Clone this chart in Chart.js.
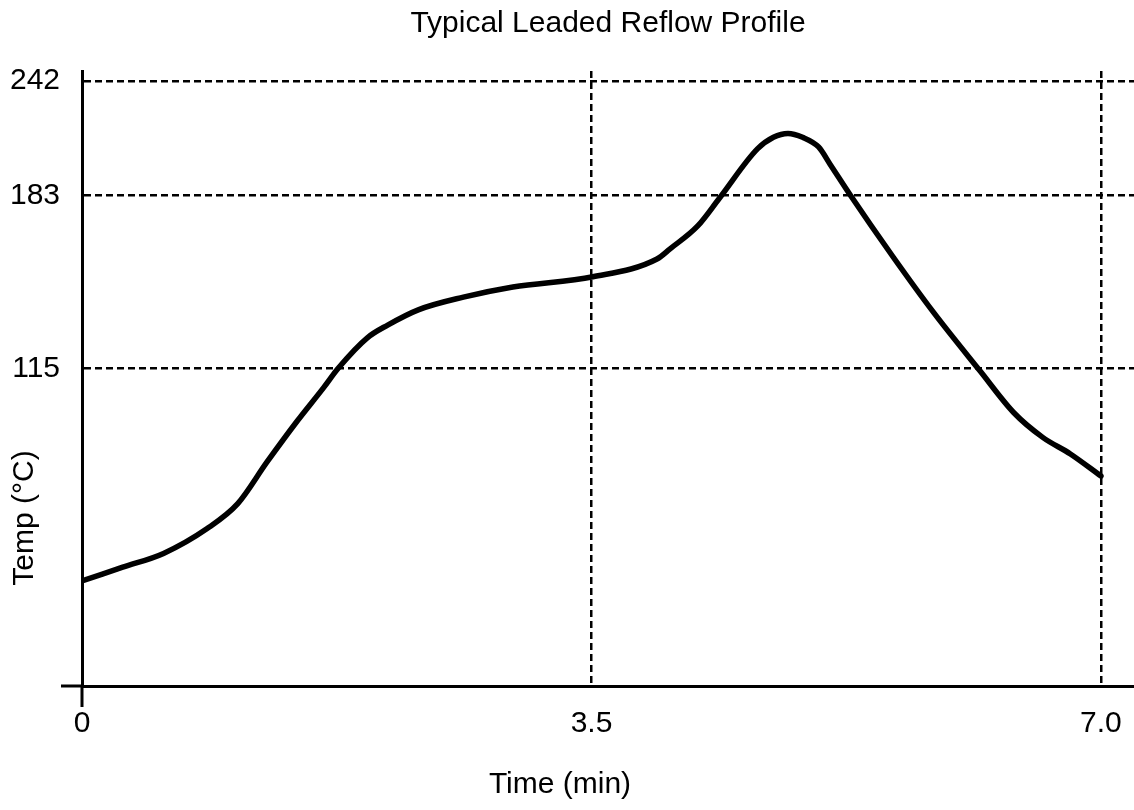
<!DOCTYPE html>
<html>
<head>
<meta charset="utf-8">
<title>Typical Leaded Reflow Profile</title>
<script src="https://cdn.jsdelivr.net/npm/chart.js@4.4.1/dist/chart.umd.min.js"></script>
<style>
    html, body { margin: 0; padding: 0; background: #fff; }
    #chart { display: block; }
</style>
</head>
<body>
<canvas id="chart" width="1134" height="810"></canvas>
<script>
// Profile: time in minutes, temperature in °C
const timeMin = [0, 0.28, 0.56, 0.86, 1.07, 1.27, 1.48, 1.66, 1.76, 1.96, 2.10, 2.31, 2.62, 2.96,
    3.51, 3.95, 4.04, 4.23, 4.38, 4.64, 4.75, 4.85, 4.95, 5.06, 5.14, 5.28, 5.57, 5.85,
    6.17, 6.40, 6.60, 6.79, 7.0];
const tempC = [38, 43, 48, 57, 66, 81, 96, 108, 115, 127, 132, 138, 143, 147,
    151, 158, 162, 171, 182, 207, 213, 215, 213, 208, 199, 183, 159, 137,
    114, 99, 90, 84, 76];

const xTickValues = [0, 3.5, 7.0];
const xTickLabels = ['0', '3.5', '7.0'];
const yTickValues = [115, 183, 242];

const chartTitle = 'Typical Leaded Reflow Profile';
const xAxisTitle = 'Time (min)';
const yAxisTitle = 'Temp (°C)';

// The temperature axis is not linear in the original: each band between
// the marked temperatures gets its own share of the axis height.
const yStopTemps = [0, 115, 183, 242, 247];
const yStopFractions = [0, 0.5166, 0.7976, 0.9837, 1];

function interpolate(v, from, to) {
    if (v <= from[0]) return to[0];
    for (let i = 1; i < from.length; i++) {
        if (v <= from[i]) {
            const f = (v - from[i - 1]) / (from[i] - from[i - 1]);
            return to[i - 1] + f * (to[i] - to[i - 1]);
        }
    }
    return to[to.length - 1];
}

class PiecewiseScale extends Chart.LinearScale {
    getPixelForValue(value) {
        if (value === null || value === undefined) return NaN;
        return this.getPixelForDecimal(interpolate(value, yStopTemps, yStopFractions));
    }
    getValueForPixel(pixel) {
        return interpolate(this.getDecimalForPixel(pixel), yStopFractions, yStopTemps);
    }
}
PiecewiseScale.id = 'piecewise';
PiecewiseScale.defaults = {};
Chart.register(PiecewiseScale);

const FONT = 'Arial, "Liberation Sans", sans-serif';
Chart.defaults.font.family = FONT;
Chart.defaults.font.size = 30;
Chart.defaults.color = '#000';

// axis stubs past the origin plus the two axis captions
const axisExtras = {
    id: 'axisExtras',
    afterDraw(chart) {
        const { ctx, chartArea: a } = chart;
        ctx.save();
        ctx.strokeStyle = '#000';
        ctx.lineWidth = 3;
        ctx.beginPath();
        ctx.moveTo(a.left - 21, a.bottom);
        ctx.lineTo(a.left, a.bottom);
        ctx.moveTo(a.left, a.bottom);
        ctx.lineTo(a.left, a.bottom + 21);
        ctx.stroke();

        ctx.fillStyle = '#000';
        ctx.font = '30px ' + FONT;
        ctx.textAlign = 'center';
        ctx.textBaseline = 'middle';
        ctx.fillText(xAxisTitle, chart.width / 2 - 7, a.bottom + 99);
        ctx.translate(25, a.bottom - 168);
        ctx.rotate(-Math.PI / 2);
        ctx.fillText(yAxisTitle, 0, 0);
        ctx.restore();
    }
};

const dashedGrid = { color: '#000', lineWidth: 2.5, drawTicks: false };
const axisBorder = { display: true, color: '#000', width: 3, dash: [7, 4] };

new Chart(document.getElementById('chart'), {
    type: 'line',
    data: {
        datasets: [{
            data: timeMin.map((t, i) => ({ x: t, y: tempC[i] })),
            borderColor: '#000',
            borderWidth: 5.5,
            pointRadius: 0,
            cubicInterpolationMode: 'monotone',
            borderCapStyle: 'round',
            borderJoinStyle: 'round',
            fill: false,
        }],
    },
    options: {
        responsive: false,
        animation: false,
        layout: { padding: { left: 10, right: 0, top: 0, bottom: 70 } },
        plugins: {
            legend: { display: false },
            tooltip: { enabled: false },
            title: {
                display: true,
                text: chartTitle,
                fullSize: false,
                color: '#000',
                font: { size: 30, weight: 'normal' },
                padding: { top: 6, bottom: 29 },
            },
        },
        scales: {
            x: {
                type: 'linear',
                min: 0,
                max: 7.227,
                afterBuildTicks: (s) => { s.ticks = xTickValues.map(v => ({ value: v })); },
                afterFit: (s) => { s.height = 54; s.paddingLeft = 0; s.paddingRight = 0; },
                ticks: {
                    padding: 20,
                    maxRotation: 0,
                    autoSkip: false,
                    callback: (v) => xTickLabels[xTickValues.indexOf(v)],
                },
                grid: dashedGrid,
                border: axisBorder,
            },
            y: {
                type: 'piecewise',
                min: 0,
                max: 247,
                afterBuildTicks: (s) => { s.ticks = yTickValues.map(v => ({ value: v })); },
                afterFit: (s) => { s.width = 72; },
                ticks: {
                    padding: 22,
                    autoSkip: false,
                    callback: (v) => String(v),
                },
                grid: dashedGrid,
                border: axisBorder,
            },
        },
    },
    plugins: [axisExtras],
});
</script>
</body>
</html>
